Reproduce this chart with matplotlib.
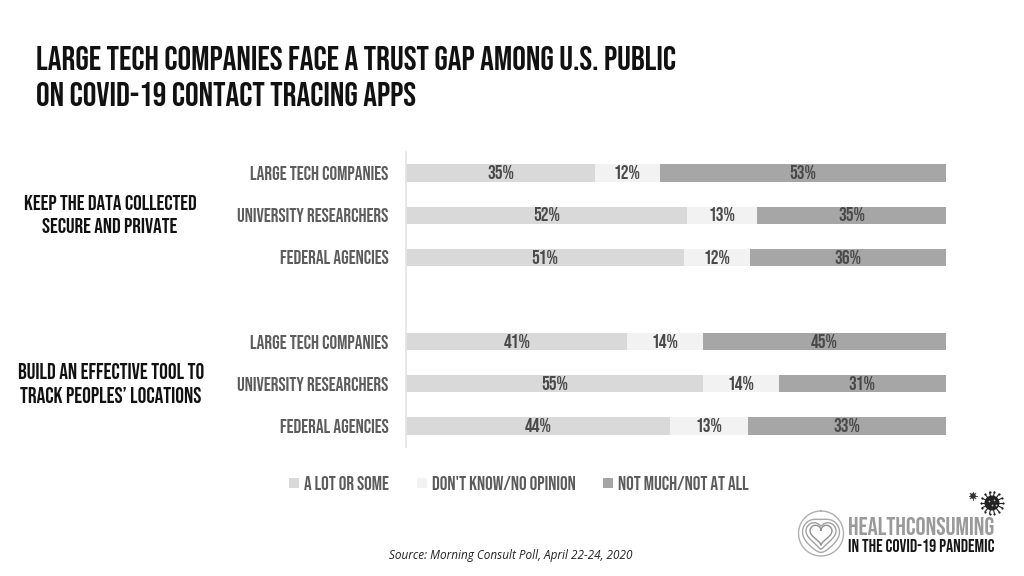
import numpy as np
import matplotlib
matplotlib.use("Agg")
import matplotlib.pyplot as plt
from matplotlib.patches import Circle, Rectangle

rows = ["LARGE TECH COMPANIES", "UNIVERSITY RESEARCHERS", "FEDERAL AGENCIES"] * 2
row_pos = [0, 1, 2, 4, 5, 6]
a_lot = [35, 52, 51, 41, 55, 44]
dont_know = [12, 13, 12, 14, 14, 13]
not_much = [53, 35, 36, 45, 31, 33]
series_names = ["A LOT OR SOME", "DON'T KNOW/NO OPINION", "NOT MUCH/NOT AT ALL"]
colors = ["#d9d9d9", "#f2f2f2", "#a6a6a6"]
title = "LARGE TECH COMPANIES FACE A TRUST GAP AMONG U.S. PUBLIC\nON COVID-19 CONTACT TRACING APPS"
narrow = ["Bebas Neue", "Liberation Sans", "DejaVu Sans"]
W, H = 1024, 576

fig = plt.figure(figsize=(W / 100, H / 100), dpi=100, facecolor="white")

# bars, each row is stretched to 100%
ax = fig.add_axes([406 / W, 1 - 447 / H, 540 / W, 295 / H])
ax.set_xlim(0, 100)
ax.set_ylim(6.5, -0.5)
left = np.zeros(len(rows))
totals = np.array(a_lot) + np.array(dont_know) + np.array(not_much)
for vals, col, name in zip([a_lot, dont_know, not_much], colors, series_names):
    widths = np.array(vals) / totals * 100
    ax.barh(row_pos, widths, left=left, height=0.41, color=col, label=name)
    for y, l, w, v in zip(row_pos, left, widths, vals):
        ax.text(l + w / 2, y - 0.02, f"{v}%", ha="center", va="center", fontsize=14,
                color="#4a4a4a", family=narrow)
    left += widths
for s in ["top", "right", "bottom"]:
    ax.spines[s].set_visible(False)
ax.spines["left"].set_color("#e4e4e4")
ax.spines["left"].set_linewidth(1.2)
ax.set_xticks([])
ax.set_yticks(row_pos)
ax.set_yticklabels(rows, fontsize=13.9, color="#5c5c5c", family=narrow, va="center")
ax.tick_params(axis="y", length=0, pad=12.5)
for lab in ax.get_yticklabels():
    lab.set_y(lab.get_position()[1] - 0.02)

# everything else is placed in pixel coordinates
top = fig.add_axes([0, 0, 1, 1])
top.set_xlim(0, W)
top.set_ylim(H, 0)
top.axis("off")
top.patch.set_alpha(0)

top.text(36, 76, title, fontsize=24.7, color="#111111", family=narrow,
         va="center", ha="left", linespacing=1.52)
top.text(110, 214, "KEEP THE DATA COLLECTED\nSECURE AND PRIVATE", fontsize=15.4,
         color="#111111", family=narrow, ha="center", va="center", linespacing=1.55)
top.text(111, 383, "BUILD AN EFFECTIVE TOOL TO\nTRACK PEOPLES\u2019 LOCATIONS", fontsize=15.6,
         color="#111111", family=narrow, ha="center", va="center", linespacing=1.5)

# legend
for x, col, name in zip([289, 417, 603], colors, series_names):
    top.add_patch(Rectangle((x, 478), 10, 10, color=col, lw=0))
    top.text(x + 15, 483, name, fontsize=13.8, color="#5c5c5c",
             family=narrow, va="center", ha="left")

top.text(511, 556, "Source: Morning Consult Poll, April 22-24, 2020", fontsize=8.5, style="italic",
         color="#222222", family="Open Sans", ha="center", va="center")

# logo: rings that morph from a circle into a heart
t = np.linspace(0, 2 * np.pi, 200)
hx = 16 * np.sin(t) ** 3 / 16
hy = -(13 * np.cos(t) - 5 * np.cos(2 * t) - 2 * np.cos(3 * t) - np.cos(4 * t)) / 16
cx, cy = np.sin(t), -np.cos(t)
for r, blend, col in [(22.5, 0, "#b0b0b0"), (18.5, 0.35, "#a8a8a8"), (15, 0.7, "#a0a0a0"), (11, 1, "#909090")]:
    top.plot(821 + r * ((1 - blend) * cx + blend * hx), 533.5 + r * ((1 - blend) * cy + blend * hy),
             color=col, lw=1)
top.text(848, 526, "HEALTHCONSUMING", fontsize=18.1, color="#9a9a9a",
         family=narrow, va="center", ha="left")
top.text(848, 546, "IN THE COVID-19 PANDEMIC", fontsize=12.9, color="#151515",
         family=narrow, va="center", ha="left")

# little virus icons
top.add_patch(Circle((992, 503), 7.5, color="#222222", lw=0))
for a in np.linspace(0, 2 * np.pi, 14, endpoint=False):
    top.plot([992, 992 + 11 * np.cos(a)], [503, 503 + 11 * np.sin(a)], color="#222222", lw=0.8)
    top.plot(992 + 11 * np.cos(a), 503 + 11 * np.sin(a), "o", ms=1.6, color="#222222", mew=0)
for dx, dy in [(-3, -2), (2, -3), (0, 2), (4, 2)]:
    top.plot(992 + dx, 503 + dy, "o", ms=1.3, color="#bbbbbb", mew=0)
top.add_patch(Circle((973, 496), 2.8, color="#333333", lw=0))
for a in np.linspace(0, 2 * np.pi, 8, endpoint=False):
    top.plot([973, 973 + 4 * np.cos(a)], [496, 496 + 4 * np.sin(a)], color="#333333", lw=0.6)

fig.savefig("out.png", dpi=100)
